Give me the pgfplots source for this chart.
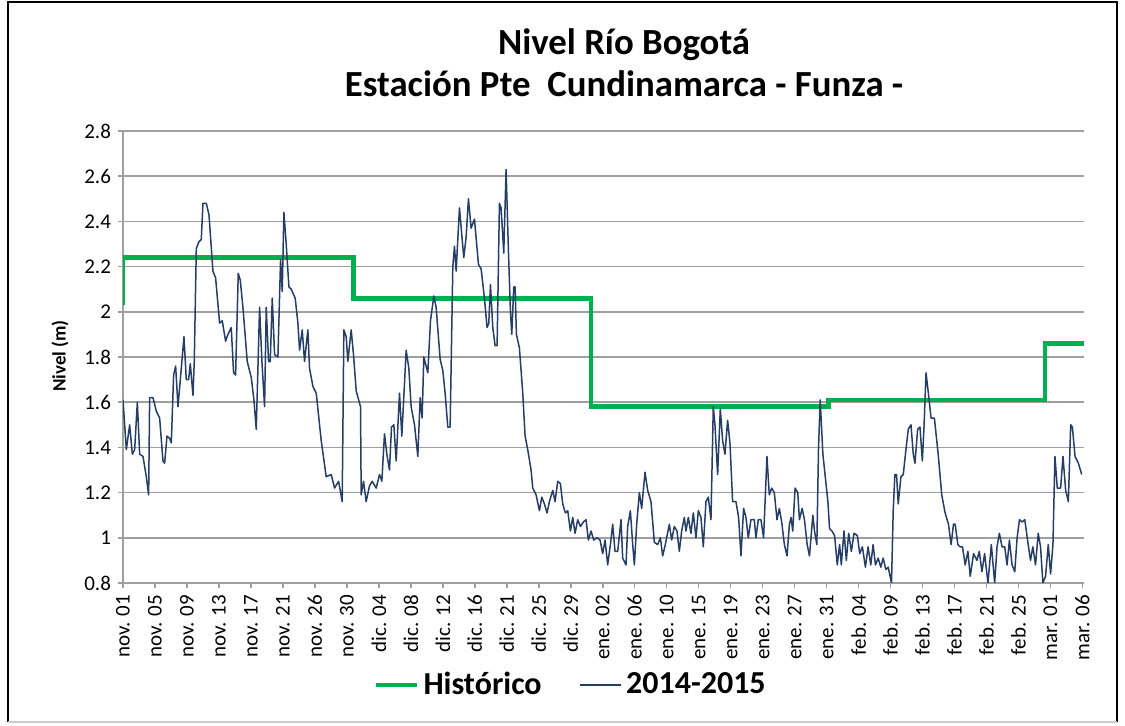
\documentclass[border=0pt]{standalone}
\usepackage{pgfplots}
\pgfplotsset{compat=1.18}
\usepackage{fontspec}
\setmainfont{Carlito}
\definecolor{hgreen}{RGB}{0,176,80}
\definecolor{lblue}{RGB}{38,62,102}
\definecolor{gridgray}{RGB}{160,160,160}
\begin{document}
\begin{tikzpicture}
\path[use as bounding box] (0pt,0pt) rectangle (562.5pt,363pt);
\draw[black,line width=1.2pt] (4pt,2pt) -- (4pt,362pt) -- (558.5pt,362pt) -- (558.5pt,2pt);
\draw[gray!40,line width=1pt] (4pt,2pt) -- (558.5pt,2pt);
\node[anchor=base,font=\bfseries\fontsize{18.4}{22}\selectfont] at (312pt,335.5pt) {Nivel Río Bogotá};
\node[anchor=base,font=\bfseries\fontsize{18.4}{22}\selectfont] at (312pt,314.5pt) {Estación Pte\ \ Cundinamarca - Funza -};
\node[rotate=90,font=\bfseries\fontsize{9.5}{11}\selectfont] at (30pt,185pt) {Nivel (m)};
\begin{axis}[
  at={(61.5pt,71.5pt)}, anchor=south west,
  scale only axis, width=480.5pt, height=226pt,
  xmin=0, xmax=30.05, ymin=0.8, ymax=2.8,
  axis x line=bottom, axis y line=left,
  axis line style={draw=gridgray, line width=0.8pt, -},
  tick align=outside, major tick length=2.5pt,
  tick style={draw=gridgray, line width=0.8pt},
  ymajorgrids, grid style={gridgray, line width=0.8pt},
  xtick={0,...,30},
  xticklabels={nov. 01,nov. 05,nov. 09,nov. 13,nov. 17,nov. 21,nov. 26,nov. 30,dic. 04,dic. 08,dic. 12,dic. 16,dic. 21,dic. 25,dic. 29,ene. 02,ene. 06,ene. 10,ene. 15,ene. 19,ene. 23,ene. 27,ene. 31,feb. 04,feb. 09,feb. 13,feb. 17,feb. 21,feb. 25,mar. 01,mar. 06},
  ytick={0.8,1,1.2,1.4,1.6,1.8,2,2.2,2.4,2.6,2.8},
  yticklabels={0.8,1,1.2,1.4,1.6,1.8,2,2.2,2.4,2.6,2.8},
  xticklabel style={rotate=90, anchor=east, font=\fontsize{10.5}{12}\selectfont},
  yticklabel style={font=\fontsize{10.5}{12}\selectfont},
  legend columns=2,
  legend style={at={(0.467,-0.2257)}, anchor=center, draw=none, fill=none,
    font=\bfseries\fontsize{16}{19}\selectfont,
    /tikz/every even column/.append style={column sep=17pt}},
  legend image code/.code={\draw[#1] (0pt,0pt) -- (20.5pt,0pt);},
]
\addplot[hgreen, line width=2.3pt, line join=miter] coordinates {
(0,2.03) (0,2.24) (7.21,2.24) (7.21,2.06) (14.64,2.06) (14.64,1.58)
(22.06,1.58) (22.06,1.61) (28.83,1.61) (28.83,1.86) (30.05,1.86)};
\addlegendentry{Histórico}
\addplot[lblue, line width=0.75pt, line join=round] coordinates {
(0.000,1.61) (0.104,1.39) (0.208,1.50) (0.292,1.37) (0.365,1.39) (0.448,1.60)
(0.521,1.37) (0.625,1.36) (0.729,1.27) (0.802,1.19) (0.833,1.62) (0.938,1.62)
(1.042,1.56) (1.146,1.53) (1.250,1.34) (1.302,1.33) (1.375,1.45) (1.458,1.44)
(1.510,1.42) (1.583,1.72) (1.646,1.76) (1.719,1.58) (1.823,1.75) (1.906,1.89)
(1.979,1.70) (2.052,1.70) (2.104,1.77) (2.188,1.63) (2.229,1.78) (2.292,2.28)
(2.375,2.31) (2.448,2.32) (2.500,2.48) (2.604,2.48) (2.688,2.43) (2.813,2.18)
(2.896,2.15) (3.021,1.95) (3.104,1.96) (3.208,1.87) (3.281,1.90) (3.385,1.93)
(3.458,1.73) (3.521,1.72) (3.604,2.17) (3.667,2.14) (3.750,2.02) (3.885,1.78)
(4.010,1.71) (4.094,1.61) (4.167,1.48) (4.271,2.02) (4.344,1.78) (4.427,1.58)
(4.479,2.02) (4.552,1.78) (4.604,1.78) (4.667,2.06) (4.740,1.81) (4.844,1.80)
(4.927,2.23) (4.979,2.09) (5.031,2.44) (5.104,2.30) (5.188,2.11) (5.260,2.10)
(5.385,2.06) (5.469,1.95) (5.521,1.83) (5.604,1.92) (5.677,1.78) (5.781,1.92)
(5.833,1.75) (5.938,1.67) (6.042,1.64) (6.198,1.43) (6.354,1.27) (6.510,1.28)
(6.615,1.22) (6.740,1.25) (6.792,1.21) (6.854,1.16) (6.906,1.92) (6.979,1.89)
(7.031,1.78) (7.135,1.92) (7.208,1.81) (7.292,1.65) (7.427,1.58) (7.448,1.19)
(7.521,1.25) (7.604,1.16) (7.708,1.23) (7.792,1.25) (7.917,1.22) (8.021,1.28)
(8.094,1.25) (8.177,1.46) (8.250,1.37) (8.333,1.30) (8.396,1.49) (8.469,1.50)
(8.542,1.34) (8.646,1.64) (8.719,1.45) (8.854,1.83) (8.938,1.75) (9.010,1.58)
(9.115,1.50) (9.219,1.36) (9.292,1.62) (9.354,1.53) (9.406,1.80) (9.531,1.73)
(9.615,1.96) (9.719,2.07) (9.792,2.02) (9.917,1.79) (10.000,1.74) (10.073,1.64)
(10.156,1.49) (10.229,1.49) (10.313,2.20) (10.365,2.29) (10.417,2.18) (10.521,2.46)
(10.594,2.34) (10.656,2.24) (10.729,2.33) (10.802,2.50) (10.885,2.37) (10.990,2.41)
(11.115,2.21) (11.198,2.19) (11.302,2.06) (11.385,1.93) (11.438,1.95) (11.490,2.12)
(11.563,1.93) (11.635,1.85) (11.698,1.85) (11.771,2.48) (11.823,2.46) (11.906,2.26)
(11.979,2.63) (12.052,2.27) (12.115,2.00) (12.156,1.90) (12.219,2.11) (12.260,2.11)
(12.302,1.90) (12.396,1.84) (12.500,1.64) (12.573,1.45) (12.656,1.39) (12.760,1.30)
(12.813,1.22) (12.917,1.19) (13.021,1.12) (13.094,1.18) (13.177,1.15) (13.260,1.11)
(13.333,1.16) (13.438,1.21) (13.510,1.16) (13.594,1.25) (13.677,1.24) (13.750,1.15)
(13.833,1.11) (13.906,1.12) (13.990,1.03) (14.063,1.09) (14.135,1.02) (14.219,1.08)
(14.302,1.05) (14.396,1.07) (14.479,1.08) (14.552,0.99) (14.635,1.03) (14.719,0.99)
(14.823,1.00) (14.917,0.99) (15.000,0.93) (15.073,0.99) (15.156,0.88) (15.240,0.97)
(15.313,1.06) (15.385,0.94) (15.469,0.94) (15.573,1.08) (15.625,0.91) (15.729,0.88)
(15.781,1.05) (15.865,1.12) (15.938,0.97) (15.990,0.88) (16.063,1.06) (16.146,1.20)
(16.219,1.13) (16.323,1.29) (16.406,1.21) (16.510,1.16) (16.615,0.98) (16.719,0.97)
(16.802,1.00) (16.875,0.92) (16.958,0.97) (17.083,1.06) (17.156,0.99) (17.240,1.05)
(17.323,1.03) (17.396,0.94) (17.469,1.03) (17.552,1.09) (17.604,1.03) (17.677,1.09)
(17.760,1.02) (17.833,1.11) (17.917,1.00) (17.990,1.12) (18.073,1.09) (18.146,0.96)
(18.229,1.16) (18.302,1.18) (18.385,1.08) (18.458,1.58) (18.510,1.50) (18.594,1.28)
(18.677,1.57) (18.750,1.43) (18.823,1.37) (18.906,1.52) (18.979,1.42) (19.063,1.16)
(19.167,1.16) (19.250,1.09) (19.323,0.92) (19.406,1.13) (19.479,1.09) (19.552,1.00)
(19.635,1.08) (19.740,1.08) (19.792,1.00) (19.865,1.08) (19.948,1.08) (20.031,1.00)
(20.136,1.36) (20.209,1.19) (20.283,1.22) (20.366,1.20) (20.450,1.08) (20.524,1.13)
(20.597,1.07) (20.681,0.97) (20.764,0.92) (20.838,1.06) (20.890,1.09) (20.942,1.03)
(21.016,1.22) (21.099,1.20) (21.152,1.08) (21.236,1.13) (21.309,1.08) (21.393,0.97)
(21.466,0.92) (21.571,1.10) (21.623,1.03) (21.696,0.97) (21.749,1.40) (21.801,1.61)
(21.885,1.37) (22.042,1.16) (22.094,1.04) (22.168,1.03) (22.251,1.01) (22.335,0.88)
(22.408,0.97) (22.461,0.88) (22.545,1.03) (22.618,0.90) (22.691,1.02) (22.775,0.94)
(22.859,1.02) (22.963,1.01) (23.037,0.93) (23.120,0.96) (23.215,0.87) (23.298,0.96)
(23.382,0.88) (23.455,0.97) (23.529,0.88) (23.613,0.91) (23.696,0.87) (23.770,0.91)
(23.853,0.86) (23.927,0.87) (24.031,0.80) (24.084,1.12) (24.136,1.28) (24.188,1.28)
(24.241,1.15) (24.325,1.27) (24.398,1.28) (24.482,1.39) (24.555,1.48) (24.639,1.50)
(24.712,1.37) (24.764,1.33) (24.848,1.48) (24.921,1.49) (24.995,1.34) (25.047,1.49)
(25.110,1.73) (25.183,1.64) (25.267,1.53) (25.372,1.53) (25.497,1.36) (25.602,1.19)
(25.707,1.11) (25.812,1.06) (25.895,0.97) (25.969,1.06) (26.021,1.06) (26.105,0.97)
(26.178,0.96) (26.251,0.96) (26.335,0.88) (26.419,0.94) (26.492,0.83) (26.597,0.93)
(26.702,0.90) (26.775,0.94) (26.859,0.85) (26.942,0.93) (27.047,0.80) (27.152,0.97)
(27.257,0.80) (27.330,0.96) (27.403,1.02) (27.487,0.96) (27.571,0.96) (27.644,0.88)
(27.717,0.99) (27.801,0.88) (27.885,0.85) (27.958,1.00) (28.031,1.08) (28.115,1.07)
(28.199,1.08) (28.304,0.97) (28.377,0.90) (28.450,0.96) (28.534,0.88) (28.618,1.02)
(28.691,0.96) (28.764,0.80) (28.848,0.83) (28.932,0.97) (29.005,0.84) (29.079,0.97)
(29.141,1.36) (29.215,1.22) (29.319,1.22) (29.393,1.36) (29.476,1.21) (29.560,1.16)
(29.634,1.50) (29.686,1.49) (29.770,1.36) (29.874,1.33) (29.979,1.28)};
\addlegendentry{2014-2015}
\end{axis}
\end{tikzpicture}
\end{document}
